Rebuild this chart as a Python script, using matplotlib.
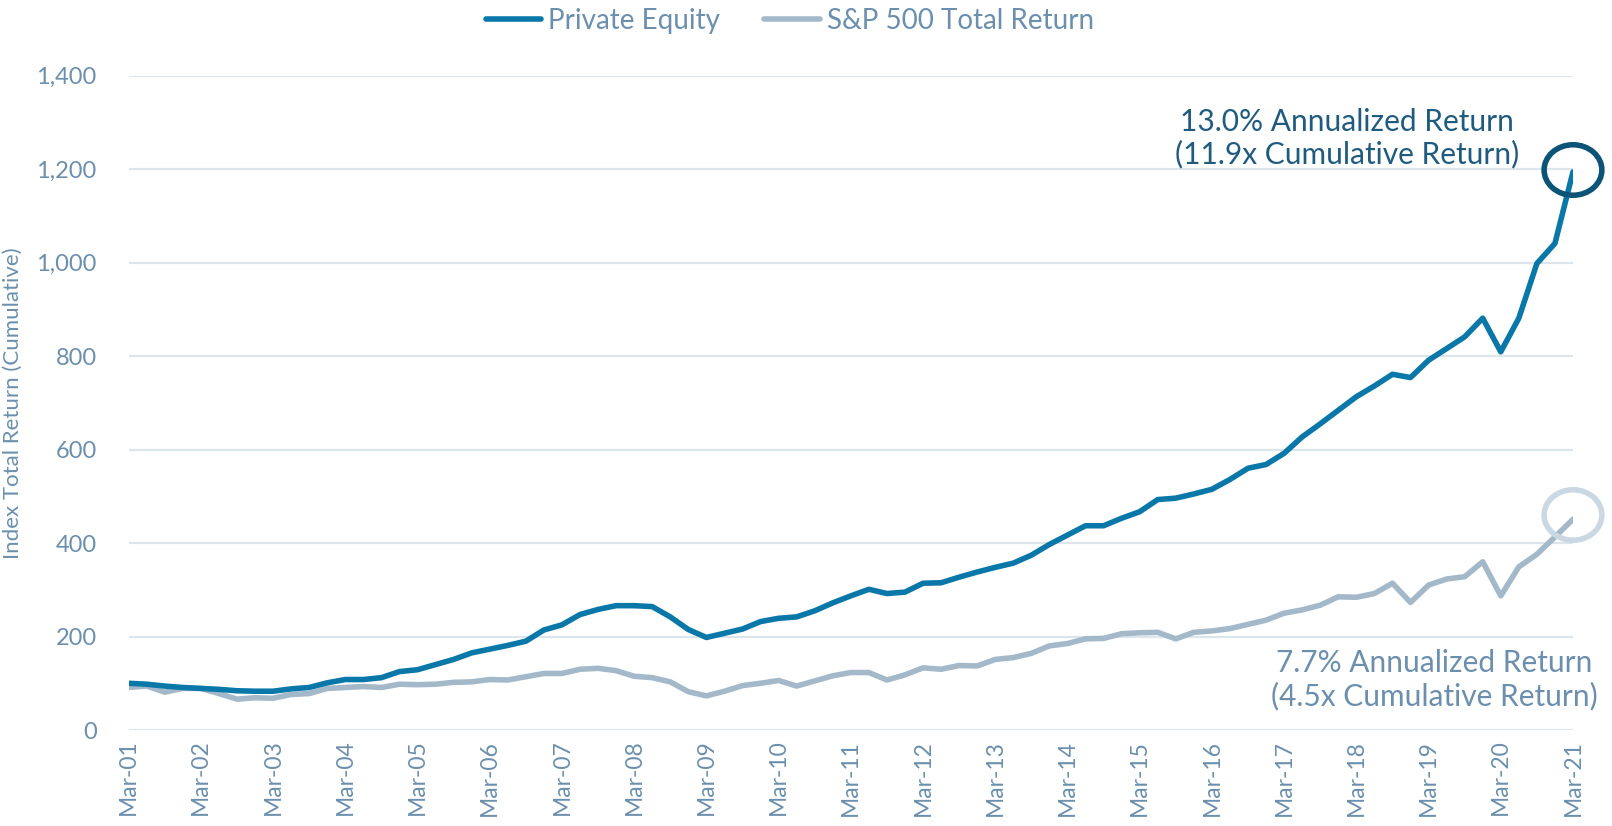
import numpy as np
import matplotlib
matplotlib.use("Agg")
import matplotlib.pyplot as plt
from matplotlib.patches import Ellipse

# -------------------------------------------------------------------
# Data – quarterly cumulative index, Mar-01 .. Mar-21
# -------------------------------------------------------------------
years = [f"{y:02d}" for y in range(1, 22)]
tick_labels = [f"Mar-{y}" for y in years]

private_equity = [
    100, 98, 94, 91, 89, 87, 84, 83, 83, 88, 91, 101, 108, 108, 112, 125,
    129, 140, 151, 165, 173, 181, 190, 214, 225, 247, 258, 266, 266, 264, 242, 215,
    198, 207, 216, 232, 239, 242, 255, 272, 287, 301, 292, 295, 314, 315, 327, 338,
    348, 357, 374, 397, 417, 437, 437, 453, 467, 493, 496, 505, 515, 536, 560, 568,
    592, 627, 655, 684, 713, 736, 761, 754, 791, 816, 841, 881, 809, 881, 998, 1041, 1194,
]
sp500 = [
    91, 94, 81, 89, 89, 78, 66, 69, 68, 76, 78, 89, 91, 93, 91, 98,
    97, 98, 102, 103, 108, 107, 114, 121, 121, 130, 132, 127, 115, 112, 103, 82,
    73, 83, 95, 100, 106, 94, 105, 116, 123, 123, 107, 118, 133, 130, 138, 137,
    151, 155, 164, 180, 185, 195, 196, 206, 208, 209, 195, 209, 212, 217, 226, 235,
    250, 257, 267, 285, 284, 292, 314, 273, 310, 323, 328, 360, 287, 349, 376, 413, 451,
]

pe_note = "13.0% Annualized Return\n(11.9x Cumulative Return)"
sp_note = "7.7% Annualized Return\n(4.5x Cumulative Return)"

# colours
PE_COLOR = "#0a77a9"
SP_COLOR = "#a3b9ca"
GRID_COLOR = "#dde5ec"
TEXT_COLOR = "#6b8fad"
PE_NOTE_COLOR = "#1f5b7e"
PE_RING = "#0b5478"
SP_RING = "#c9d8e2"

plt.rcParams["font.family"] = ["Lato", "DejaVu Sans"]

fig = plt.figure(figsize=(16.12, 8.26), dpi=100)
ax = fig.add_axes([0.0798, 0.1162, 0.8960, 0.7923])

x = np.arange(len(private_equity))
ax.plot(x, private_equity, color=PE_COLOR, lw=4, label="Private Equity",
        solid_joinstyle="round", solid_capstyle="round", zorder=3)
ax.plot(x, sp500, color=SP_COLOR, lw=4, label="S&P 500 Total Return",
        solid_joinstyle="round", solid_capstyle="round", zorder=2)

ax.set_xlim(0, len(x) - 1)
ax.set_ylim(0, 1400)
ax.set_yticks(np.arange(0, 1401, 200))
ax.yaxis.set_major_formatter(matplotlib.ticker.FuncFormatter(lambda v, p: f"{int(v):,}"))
ax.set_xticks(np.arange(0, len(x), 4))
ax.set_xticklabels(tick_labels, rotation=90)

ax.grid(axis="y", color=GRID_COLOR, lw=1.6, zorder=0)
ax.set_axisbelow(True)
for s in ax.spines.values():
    s.set_visible(False)
ax.tick_params(axis="both", length=0, colors=TEXT_COLOR)
ax.tick_params(axis="y", pad=23, labelsize=17)
ax.tick_params(axis="x", pad=7, labelsize=16.5)
ax.set_ylabel("Index Total Return (Cumulative)", color=TEXT_COLOR, fontsize=16, labelpad=10)

# call-outs
ax.text(67.5, 1266, pe_note, ha="center", va="center", fontsize=21.5,
        color=PE_NOTE_COLOR, linespacing=1.2)
ax.text(72.3, 107, sp_note, ha="center", va="center", fontsize=21.5,
        color=TEXT_COLOR, linespacing=1.2)
ax.add_patch(Ellipse((80, 1198), 3.2, 108, fill=False, ec=PE_RING, lw=4, clip_on=False, zorder=4))
ax.add_patch(Ellipse((80, 460), 3.2, 108, fill=False, ec=SP_RING, lw=4, clip_on=False, zorder=4))

fig.legend(loc="center", bbox_to_anchor=(0.49, 0.975), ncol=2, frameon=False,
           fontsize=20, labelcolor=TEXT_COLOR, handlelength=2.0,
           handletextpad=0.25, columnspacing=1.6)

fig.savefig("out.png", dpi=100)
